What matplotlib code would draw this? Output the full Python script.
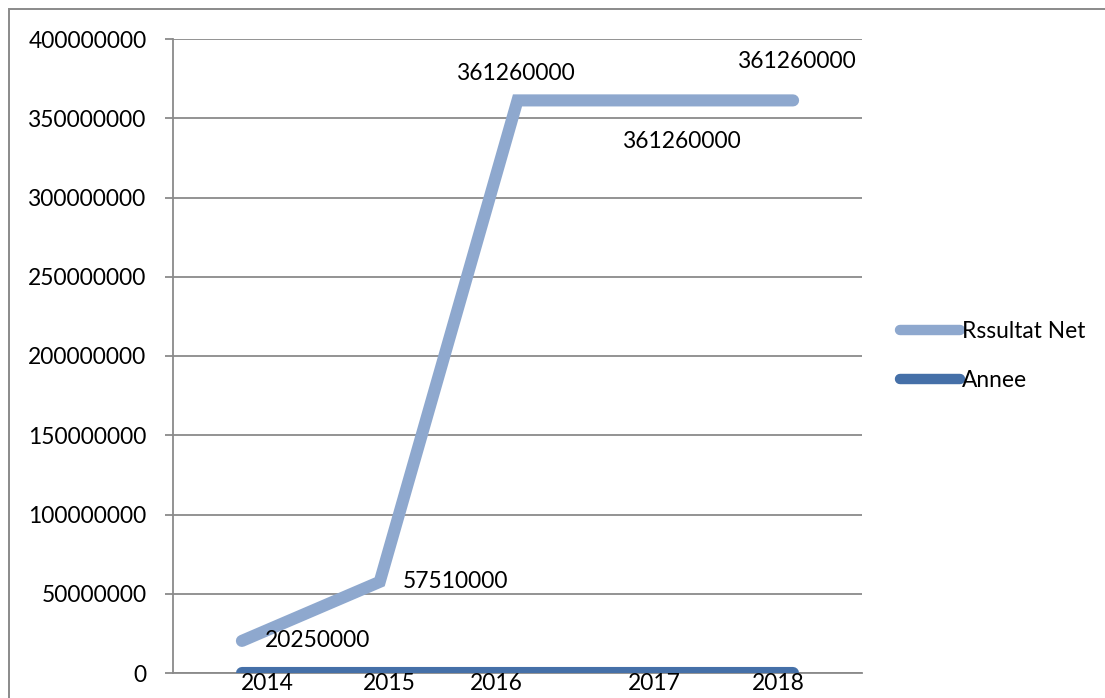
import matplotlib
matplotlib.use("Agg")
import matplotlib.pyplot as plt
from matplotlib.patches import Rectangle

years = [2014, 2015, 2016, 2017, 2018]
resultat_net = [20250000, 57510000, 361260000, 361260000, 361260000]
annee = [2014, 2015, 2016, 2017, 2018]
series_names = ["Rssultat Net", "Annee"]
y_ticks = [0, 50000000, 100000000, 150000000, 200000000, 250000000,
           300000000, 350000000, 400000000]

# label offsets in pixels (layout only)
res_offsets = [(23, 0, "left"), (23, 0, "left"), (-1, 27, "center"),
               (27, -41, "center"), (4, 39, "center")]
an_offsets = [(25, -11), (10, -11), (-21, -11), (-1, -11), (-15, -11)]

FONT = "Lato"
FS = 16.4
LIGHT = "#8EA8CE"
DARK = "#4570A8"
GRID = "#8A8A8A"

W, H, DPI = 1105, 698, 100
fig = plt.figure(figsize=(W / DPI, H / DPI), dpi=DPI)
plt.rcParams["font.family"] = [FONT, "DejaVu Sans"]

# outer chart border (extends beyond the image right and bottom)
fig.patches.append(Rectangle((9 / W, -0.2), 2.0, 1 - 9 / H + 0.2,
                             transform=fig.transFigure, fill=False,
                             edgecolor=GRID, linewidth=1.4))

ax = fig.add_axes([173 / W, 1 - 673 / H, (862 - 173) / W, (673 - 39) / H])
x = list(range(len(years)))

ax.plot(x, resultat_net, color=LIGHT, linewidth=8.7, solid_capstyle="round",
        solid_joinstyle="miter", label=series_names[0], zorder=3)
ax.plot(x, annee, color=DARK, linewidth=8.7, solid_capstyle="round",
        label=series_names[1], zorder=3)

ax.set_xlim(-0.5, len(years) - 0.5)
ax.set_ylim(0, 400000000)
ax.set_yticks(y_ticks)
ax.set_yticklabels([str(v) for v in y_ticks], fontsize=FS, family=FONT)
ax.set_xticks([])
ax.yaxis.grid(True, color=GRID, linewidth=1.3)
ax.set_axisbelow(True)
for s in ["top", "right"]:
    ax.spines[s].set_visible(False)
ax.spines["left"].set_color(GRID)
ax.spines["left"].set_linewidth(1.3)
ax.spines["bottom"].set_color(GRID)
ax.spines["bottom"].set_linewidth(1.3)
ax.tick_params(axis="y", length=6, width=1.3, color=GRID, pad=13)

for xi, v, (dx, dy, ha) in zip(x, resultat_net, res_offsets):
    ax.annotate(str(v), (xi, v), xytext=(dx, dy), textcoords="offset pixels",
                ha=ha, va="center", fontsize=FS, family=FONT,
                annotation_clip=False, zorder=5)
for xi, v, (dx, dy) in zip(x, annee, an_offsets):
    ax.annotate(str(v), (xi, v), xytext=(dx, dy), textcoords="offset pixels",
                ha="center", va="center", fontsize=FS, family=FONT,
                annotation_clip=False, zorder=5)

leg = fig.legend(loc="center left", bbox_to_anchor=(900 / W, 1 - 356 / H),
                 frameon=False, prop={"family": FONT, "size": FS},
                 handlelength=2.65, handletextpad=0.05, borderpad=0,
                 borderaxespad=0, labelspacing=1.25)
for line in leg.get_lines():
    line.set_linewidth(7.5)
    line.set_solid_capstyle("round")

fig.savefig("out.png", dpi=DPI)
